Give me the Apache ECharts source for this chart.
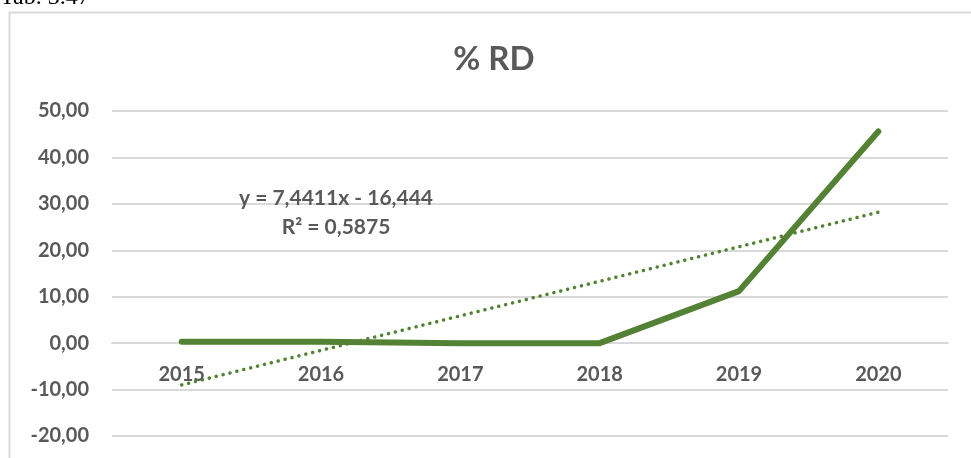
<!DOCTYPE html>
<html>
<head>
<meta charset="utf-8">
<title>% RD</title>
<script src="https://cdn.jsdelivr.net/npm/echarts@6/dist/echarts.min.js"></script>
<style>
  html, body { margin: 0; padding: 0; background: #fff; }
  #chart { width: 971px; height: 458px; }
</style>
</head>
<body>
<div id="chart"></div>
<script>
  var years = ["2015", "2016", "2017", "2018", "2019", "2020"];
  var rdValues = [0.3, 0.3, 0.0, 0.0, 11.2, 45.6];
  // linear trend as drawn in the picture (y = 7,4411x - 16,444)
  var trendValues = [-9.0, -1.56, 5.88, 13.32, 20.76, 28.2];
  var trendLabel = ["y = 7,4411x - 16,444", "R² = 0,5875"];

  var textColor = "#595959";
  var gridColor = "#d9d9d9";
  var green = "#548235";
  var chart = echarts.init(document.getElementById("chart"));

  function fmt(v) { return v.toFixed(2).replace(".", ","); }

  chart.setOption({
    animation: false,
    title: {
      text: "% RD", left: 489, top: 38, textAlign: "center",
      textStyle: { fontFamily: "Lato", fontSize: 33, fontWeight: "bold", color: textColor }
    },
    grid: { left: 112, right: 23, top: 111, bottom: 22, outerBoundsMode: "none" },
    xAxis: {
      type: "category", data: years, boundaryGap: true,
      // category axis sits on the zero line, 93px above the plot bottom
      offset: -93,
      axisLine: { onZero: false, lineStyle: { color: gridColor, width: 2 } },
      axisTick: { show: false },
      axisLabel: { color: textColor, fontFamily: "Lato", fontWeight: "bold", fontSize: 20, margin: 22 }
    },
    yAxis: {
      type: "value", min: -20, max: 50, interval: 10,
      axisLine: { show: false }, axisTick: { show: false },
      splitLine: { lineStyle: { color: gridColor, width: 2 } },
      axisLabel: { color: textColor, fontFamily: "Lato", fontWeight: "bold", fontSize: 20, margin: 23, formatter: fmt }
    },
    graphic: [
      { type: "rect", shape: { x: 9.5, y: 12.5, width: 980, height: 460 }, style: { fill: "none", stroke: "#d9d9d9", lineWidth: 2 }, silent: true },
      { type: "text", left: 0, top: -14, style: { text: "Tab. 3.47", fontFamily: "Liberation Serif", fontSize: 24, fill: "#000" } },
      { type: "text", x: 336, y: 198, z: 100, style: { text: trendLabel[0], fontFamily: "Lato", fontWeight: "bold", fontSize: 21, fill: textColor, align: "center", verticalAlign: "middle" } },
      { type: "text", x: 336, y: 227, z: 100, style: { text: trendLabel[1], fontFamily: "Lato", fontWeight: "bold", fontSize: 21, fill: textColor, align: "center", verticalAlign: "middle" } }
    ],
    series: [
      {
        name: "trend", type: "line", data: trendValues, symbol: "none", z: 3,
        lineStyle: { color: green, width: 3.5, type: [0.1, 7], cap: "round" }
      },
      {
        name: "% RD", type: "line", data: rdValues, symbol: "none", z: 4,
        lineStyle: { color: green, width: 6, cap: "round", join: "round" }
      }
    ]
  });
</script>
</body>
</html>
